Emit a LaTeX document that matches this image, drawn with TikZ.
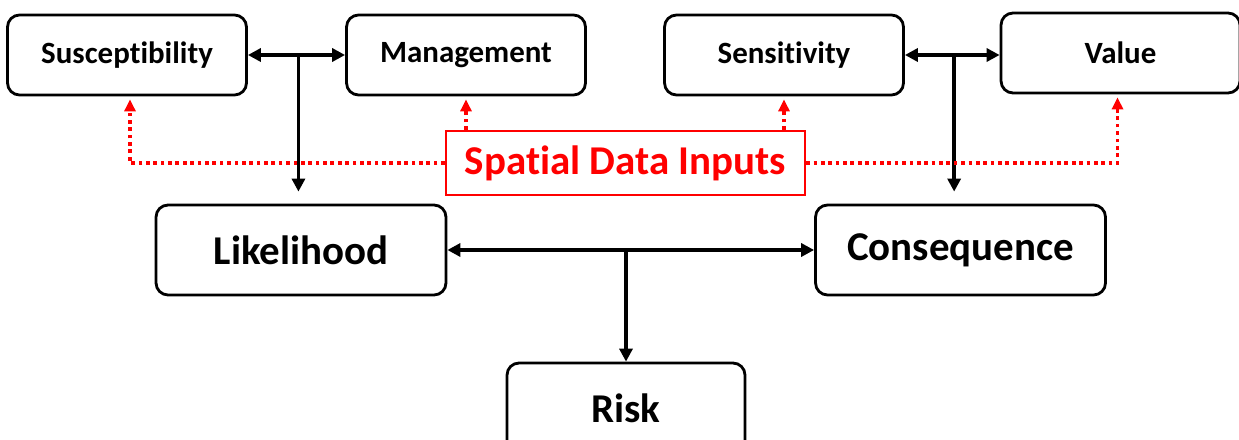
\documentclass[tikz,border=0pt]{standalone}
\usepackage{fontspec}
\setmainfont{Carlito}[RawFeature={-liga;-clig;-dlig}]
\usetikzlibrary{arrows.meta,calc}
\begin{document}
\begin{tikzpicture}[x=0.02cm,y=-0.02cm,
  box/.style={draw=black, line width=1.6pt, rounded corners=0.24cm, fill=white, inner sep=0pt},
  small/.style={box, minimum width=4.78cm, minimum height=1.6cm, font=\bfseries\fontsize{17.6}{20}\selectfont},
  big/.style={box, minimum width=5.8cm, minimum height=1.8cm, font=\bfseries\fontsize{23.3}{26}\selectfont},
  inbox/.style={draw=red, line width=1.4pt, inner sep=0pt, minimum width=7.18cm, minimum height=1.28cm, text=red, font=\bfseries\fontsize{23.3}{26}\selectfont},
  conn/.style={line width=2.1pt, -{Triangle[length=0.26cm,width=0.26cm]}},
  dconn/.style={line width=2.1pt, {Triangle[length=0.26cm,width=0.26cm]}-{Triangle[length=0.26cm,width=0.26cm]}},
  rconn/.style={draw=red, line width=2.1pt, dash pattern=on 2.1pt off 2.1pt, -{Triangle[length=0.24cm,width=0.22cm]}, shorten >=0.06cm}
]
\clip (0,0) rectangle (1239,439);
\fill[white] (0,0) rectangle (1239,439);

\node[small] (sus) at (127,55) {Susceptibility};
\node[small] (man) at (466,55) {Management};
\node[small] (sen) at (784,55) {Sensitivity};
\node[small] (val) at (1120.5,53) {Value};
\node[big] (lik) at (301,250) {Likelihood};
\node[big] (con) at (960.5,250) {Consequence};
\node[big, minimum width=4.76cm] (risk) at (626,408) {Risk};
\node[inbox] (sdi) at (625.5,163) {Spatial Data Inputs};

% black connectors
\draw[dconn] (sus.east) -- (man.west);
\coordinate (m1) at ($(sus.east)!0.52!(man.west)$);
\draw[conn, shorten >=0.24cm] (m1) -- (m1 |- lik.north);

\draw[dconn] (sen.east) -- (sen.east -| val.west);
\coordinate (m2) at ($(sen.east)!0.52!(sen.east -| val.west)$);
\draw[conn, shorten >=0.24cm] (m2) -- (m2 |- con.north);

\draw[dconn] (lik.east) -- (con.west);
\draw[conn] (risk.north |- lik.east) -- (risk.north);

% red dotted connectors
\draw[rconn] (sdi.west) -| ($(sus.south)+(3,0)$);
\draw[rconn] (sdi.north -| man.south) -- (man.south);
\draw[rconn] (sdi.north -| sen.south) -- (sen.south);
\draw[rconn] (sdi.east) -| ($(val.south)+(-3,0)$);
\end{tikzpicture}
\end{document}
